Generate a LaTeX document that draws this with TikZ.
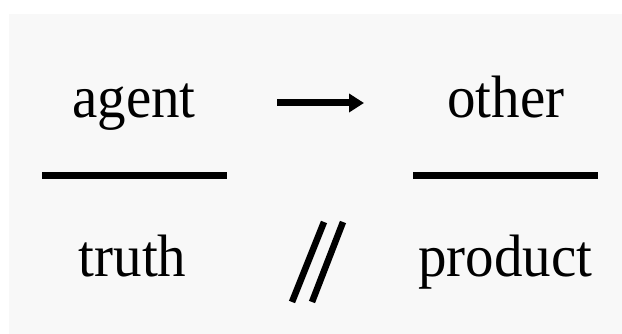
\documentclass[tikz,border=0pt]{standalone}
\usepackage{fontspec}
\setmainfont{Liberation Serif}
\usetikzlibrary{arrows.meta}
\definecolor{bggray}{RGB}{248,248,248}
\tikzset{
  word/.style={anchor=base, inner sep=0pt, yscale=1.05, font=\fontsize{57}{60}\selectfont},
  bar/.style={line width=7pt},
  slash/.style={line width=6.5pt},
}
\begin{document}
\begin{tikzpicture}[x=1pt,y=1pt]
\useasboundingbox (0,0) rectangle (622,334);
\fill[white] (0,0) rectangle (622,334);
\fill[bggray] (9,0) rectangle (622,320);
\node[word] (agent) at (134,216) {agent};
\node[word] (other) at (506,216.5) {other};
\node[word] (truth) at (132.5,57.5) {truth};
\node[word] (product) at (505.5,57) {product};
\coordinate (arrS) at (277,231);
\coordinate (arrE) at (364,231);
\draw[line width=7pt, -{Triangle[length=15pt,width=18pt]}] (arrS) -- (arrE);
\coordinate (barLa) at (42,158);
\coordinate (barLb) at (227,158);
\coordinate (barRa) at (413,158);
\coordinate (barRb) at (598,158);
\draw[bar] (barLa) -- (barLb);
\draw[bar] (barRa) -- (barRb);
\coordinate (s1a) at (324,112);
\coordinate (s1b) at (292,32);
\coordinate (s2a) at (343,112);
\coordinate (s2b) at (312,32);
\draw[slash] (s1a) -- (s1b);
\draw[slash] (s2a) -- (s2b);
\end{tikzpicture}
\end{document}
